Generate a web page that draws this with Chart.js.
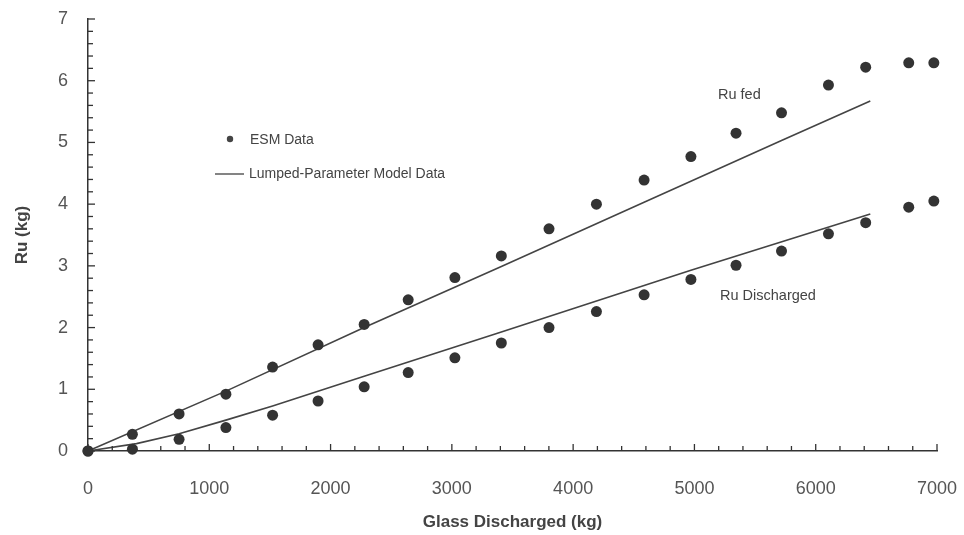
<!DOCTYPE html>
<html>
<head>
<meta charset="utf-8">
<script src="https://cdn.jsdelivr.net/npm/chart.js@4.4.0/dist/chart.umd.min.js"></script>
<style>
    html, body { margin: 0; padding: 0; background: #fff; }
    #wrap { width: 964px; height: 535px; position: relative; }
</style>
</head>
<body>
<div id="wrap"><canvas id="ruChart"></canvas></div>
<script>
// ── Data ──
var glassKg = [0, 366, 751, 1137, 1522, 1897, 2277, 2640, 3025, 3408, 3801, 4192, 4585, 4971, 5343, 5718, 6105, 6412, 6767, 6974];
var ruFedEsm = [0, 0.27, 0.60, 0.92, 1.36, 1.72, 2.05, 2.45, 2.81, 3.16, 3.60, 4.00, 4.39, 4.77, 5.15, 5.48, 5.93, 6.22, 6.29, 6.29];
var ruDischargedEsm = [0, 0.03, 0.19, 0.38, 0.58, 0.81, 1.04, 1.27, 1.51, 1.75, 2.00, 2.26, 2.53, 2.78, 3.01, 3.24, 3.52, 3.70, 3.95, 4.05];

var modelFedKg = [0, 1137, 2277, 3408, 4585, 5718, 6450];
var modelFedRu = [0, 0.97, 2.00, 2.99, 4.03, 5.03, 5.67];
var modelDisKg = [0, 400, 751, 1137, 1522, 2245, 3408, 4971, 6450];
var modelDisRu = [0, 0.12, 0.28, 0.50, 0.73, 1.19, 1.93, 2.93, 3.84];

var xTickLabels = [0, 1000, 2000, 3000, 4000, 5000, 6000, 7000];
var yTickLabels = [0, 1, 2, 3, 4, 5, 6, 7];

var FONT = '"Liberation Sans", Arial, sans-serif';
var INK = '#333';

function pairs(xs, ys) {
    return xs.map(function(x, i) { return { x: x, y: ys[i] }; });
}
function isLabel(list, v) {
    return list.some(function(l) { return Math.abs(l - v) < 1e-6; });
}

// ── inward tick marks, legend and curve labels ──
var paperDecor = {
    id: 'paperDecor',
    afterDraw: function(chart) {
        var ctx = chart.ctx, xs = chart.scales.x, ys = chart.scales.y;
        var ax = xs.left, ay = ys.bottom;
        ctx.save();
        ctx.strokeStyle = INK;
        ctx.lineWidth = 1.3;
        ys.ticks.forEach(function(t) {
            var py = ys.getPixelForValue(t.value);
            var len = isLabel(yTickLabels, t.value) ? 7 : 5;
            ctx.beginPath(); ctx.moveTo(ax, py); ctx.lineTo(ax + len, py); ctx.stroke();
        });
        xs.ticks.forEach(function(t) {
            var px = xs.getPixelForValue(t.value);
            var len = isLabel(xTickLabels, t.value) ? 7 : 5;
            ctx.beginPath(); ctx.moveTo(px, ay); ctx.lineTo(px, ay - len); ctx.stroke();
        });

        ctx.fillStyle = '#444';
        ctx.font = '14px ' + FONT;
        ctx.textBaseline = 'middle';
        // legend
        ctx.beginPath(); ctx.arc(230, 139, 3.2, 0, Math.PI * 2); ctx.fill();
        ctx.fillText('ESM Data', 250, 140);
        ctx.lineWidth = 1.2;
        ctx.beginPath(); ctx.moveTo(215, 174); ctx.lineTo(244, 174); ctx.stroke();
        ctx.fillText('Lumped-Parameter Model Data', 249, 174);
        // curve labels
        ctx.font = '14.5px ' + FONT;
        ctx.fillText('Ru fed', 718, 95);
        ctx.fillText('Ru Discharged', 720, 296);
        ctx.restore();
    }
};

var ctx = document.getElementById('ruChart');
new Chart(ctx.getContext('2d'), {
    type: 'scatter',
    data: {
        datasets: [
            { label: 'ESM Ru fed', data: pairs(glassKg, ruFedEsm), pointRadius: 5.5, pointBackgroundColor: INK, pointBorderWidth: 0, showLine: false, order: 1, clip: false },
            { label: 'ESM Ru discharged', data: pairs(glassKg, ruDischargedEsm), pointRadius: 5.5, pointBackgroundColor: INK, pointBorderWidth: 0, showLine: false, order: 1, clip: false },
            { label: 'Model Ru fed', data: pairs(modelFedKg, modelFedRu), showLine: true, borderColor: '#444', borderWidth: 1.6, pointRadius: 0, order: 2, clip: false },
            { label: 'Model Ru discharged', data: pairs(modelDisKg, modelDisRu), showLine: true, borderColor: '#444', borderWidth: 1.6, pointRadius: 0, order: 2, clip: false }
        ]
    },
    options: {
        responsive: true, maintainAspectRatio: false, animation: false,
        layout: { padding: { top: 19, right: 27, left: 0, bottom: 0 } },
        plugins: { legend: { display: false }, tooltip: { enabled: false } },
        scales: {
            x: {
                type: 'linear', min: 0, max: 7000,
                grid: { display: false, drawTicks: false },
                border: { display: true, color: INK, width: 1.5 },
                afterFit: function(s) { s.height = 84; s.paddingLeft = 0; s.paddingRight = 0; },
                ticks: {
                    stepSize: 200, autoSkip: false, maxRotation: 0, padding: 27, color: '#555',
                    font: { family: FONT, size: 18 },
                    callback: function(v) { return isLabel(xTickLabels, v) ? String(Math.round(v)) : ''; }
                },
                title: { display: true, text: 'Glass Discharged (kg)', color: '#444', font: { family: FONT, size: 17, weight: 'bold' }, padding: { top: 0, bottom: 2 } }
            },
            y: {
                type: 'linear', min: 0, max: 7,
                grid: { display: false, drawTicks: false },
                border: { display: true, color: INK, width: 1.5 },
                afterFit: function(s) { s.width = 88; s.paddingTop = 0; s.paddingBottom = 0; },
                ticks: {
                    stepSize: 0.2, autoSkip: false, padding: 20, color: '#555',
                    font: { family: FONT, size: 18 },
                    callback: function(v) { return isLabel(yTickLabels, v) ? String(Math.round(v)) : ''; }
                },
                title: { display: true, text: 'Ru (kg)', color: '#444', font: { family: FONT, size: 17, weight: 'bold' }, padding: { top: 12, bottom: 0 } }
            }
        }
    },
    plugins: [paperDecor]
});
</script>
</body>
</html>
